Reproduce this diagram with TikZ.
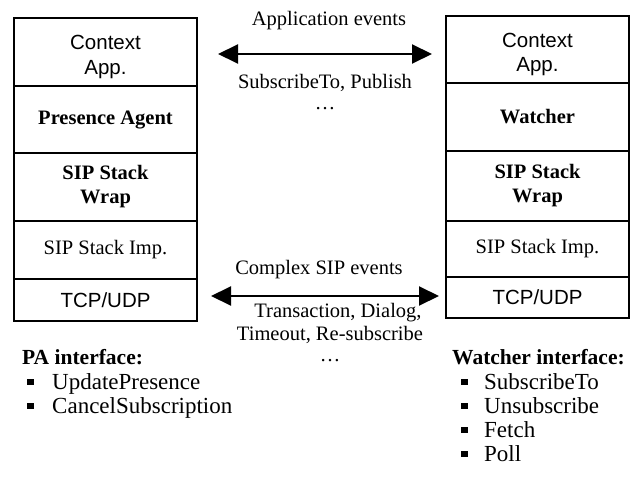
\documentclass[tikz,border=0pt]{standalone}
\usepackage{fontspec}
\setmainfont{Liberation Serif}
\newfontfamily\arialfont{Liberation Sans}
\usetikzlibrary{arrows.meta}
\newcommand\sqbul{\raisebox{4pt}{\rule{6.5pt}{6.5pt}}}
\begin{document}
\begin{tikzpicture}[x=1pt,y=-1pt,
  layer/.style={draw, line width=1.4pt, minimum width=183pt, inner sep=0pt, outer sep=0pt, align=center, font=\fontsize{20.5}{24}\selectfont},
  sanstext/.style={inner sep=0pt, align=center, font=\arialfont\fontsize{20.5}{24.5}\selectfont},
  sanslayer/.style={layer, font=\arialfont\fontsize{20.5}{24.5}\selectfont},
  lbl/.style={font=\fontsize{20.5}{24}\selectfont, inner sep=0pt, anchor=base},
  item/.style={font=\fontsize{23}{24}\selectfont, inner sep=0pt, anchor=base west},
  head/.style={font=\bfseries\fontsize{21.5}{24}\selectfont, inner sep=0pt, anchor=base west},
  dbl/.style={line width=2pt, {Triangle[length=20pt,width=19pt]}-{Triangle[length=20pt,width=19pt]}},
]
\useasboundingbox (0,0) rectangle (634,489);
% left stack
\node[layer, minimum height=68pt] (L1) at (105.5,52) {};
\node[sanstext] (L1t) at (105.5,57) {Context\\App.};
\node[layer, minimum height=67pt] (L2) at (105.5,119.5) {\textbf{Presence Agent}};
\node[layer, minimum height=68pt] (L3) at (105.5,187) {\textbf{SIP Stack}\\\textbf{Wrap}};
\node[layer, minimum height=58pt] (L4) at (105.5,250) {SIP Stack Imp.};
\node[sanslayer, minimum height=42pt] (L5) at (105.5,300) {TCP/UDP};
% right stack
\node[layer, minimum height=67pt] (R1) at (537.5,49.5) {};
\node[sanstext] (R1t) at (537.5,54.5) {Context\\App.};
\node[layer, minimum height=68pt] (R2) at (537.5,117) {\textbf{Watcher}};
\node[layer, minimum height=70pt] (R3) at (537.5,186) {\textbf{SIP Stack}\\\textbf{Wrap}};
\node[layer, minimum height=56pt] (R4) at (537.5,249) {SIP Stack Imp.};
\node[sanslayer, minimum height=41pt] (R5) at (537.5,297.5) {TCP/UDP};
% arrows
\coordinate (a1) at (218,54);
\coordinate (a2) at (432,54);
\coordinate (b1) at (211,296);
\coordinate (b2) at (439,296);
\draw[dbl] (a1) -- (a2);
\draw[dbl] (b1) -- (b2);
% labels
\node[lbl] (t1) at (329,26) {Application events};
\node[lbl] (t2) at (325,89) {SubscribeTo, Publish};
\node[lbl] (t3) at (325,110) {\ldots};
\node[lbl] (t4) at (319,274) {Complex SIP events};
\node[lbl] (t5) at (338,317) {Transaction, Dialog,};
\node[lbl] (t6) at (330,340) {Timeout, Re-subscribe};
\node[lbl] (t7) at (330,361) {\ldots};
% interfaces
\node[head] (pa) at (22,364) {PA interface:};
\node[item] (pa1) at (27,389) {\makebox[25pt][l]{\sqbul}UpdatePresence};
\node[item] (pa2) at (27,413) {\makebox[25pt][l]{\sqbul}CancelSubscription};
\node[head] (wa) at (452,364) {Watcher interface:};
\node[item] (wa1) at (461,389) {\makebox[23pt][l]{\sqbul}SubscribeTo};
\node[item] (wa2) at (461,413) {\makebox[23pt][l]{\sqbul}Unsubscribe};
\node[item] (wa3) at (461,437) {\makebox[23pt][l]{\sqbul}Fetch};
\node[item] (wa4) at (461,461) {\makebox[23pt][l]{\sqbul}Poll};
\end{tikzpicture}
\end{document}
